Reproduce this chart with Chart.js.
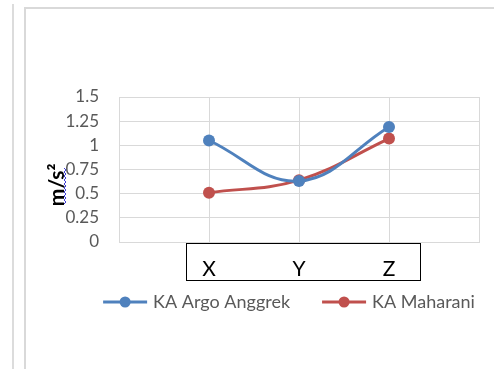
<!DOCTYPE html>
<html>
<head>
<meta charset="utf-8">
<script src="https://cdn.jsdelivr.net/npm/chart.js@4/dist/chart.umd.min.js"></script>
<style>
  html, body { margin: 0; padding: 0; background: #fff; }
  #wrap { position: relative; width: 494px; height: 369px; overflow: hidden; }
  .rule { position: absolute; left: 12px; top: 4px; width: 2px; height: 370px; background: #dcdcdc; }
  .frame { position: absolute; left: 24px; top: 7px; width: 480px; height: 370px;
           border-left: 2px solid #d9d9d9; border-top: 2px solid #d9d9d9; }
  canvas { position: absolute; left: 0; top: 0; }
</style>
</head>
<body>
<div id="wrap">
  <div class="rule"></div>
  <div class="frame"></div>
  <canvas id="c" width="494" height="369"></canvas>
</div>
<script>
// Acceleration per axis for each train
const categories = ['', 'X', 'Y', 'Z', ''];
const argoAnggrek = [null, 1.05, 0.63, 1.19, null];
const maharani = [null, 0.51, 0.64, 1.07, null];
const yTicks = [0, 0.25, 0.5, 0.75, 1, 1.25, 1.5];
const seriesNames = ['KA Argo Anggrek', 'KA Maharani'];
const seriesColors = ['#4F81BD', '#C0504D'];
const yTitle = 'm/s\u00B2';

const FONT = 'Lato, "Open Sans", sans-serif';

// Outlined text box around the axis labels
const labelBox = {
  id: 'labelBox',
  afterDraw(chart) {
    const { ctx, chartArea, scales } = chart;
    const left = Math.round(scales.x.getPixelForValue(1) - 23) + 0.5;
    const right = Math.round(scales.x.getPixelForValue(3) + 31) + 0.5;
    const top = Math.round(chartArea.bottom + 1) + 0.5;
    const bottom = Math.round(chartArea.bottom + 38) + 0.5;
    ctx.save();
    ctx.strokeStyle = '#000';
    ctx.lineWidth = 1;
    ctx.strokeRect(left, top, right - left, bottom - top);
    ctx.restore();
  }
};

// Wavy underline beside the rotated axis title
const titleMark = {
  id: 'titleMark',
  afterDraw(chart) {
    const { ctx } = chart;
    const x = 65, y0 = 168, y1 = 205;
    ctx.save();
    ctx.strokeStyle = '#3b3bd6';
    ctx.lineWidth = 1;
    ctx.beginPath();
    for (let y = y0, i = 0; y <= y1; y += 2, i++) {
      const xx = x + (i % 2 ? 1 : -1);
      if (i === 0) ctx.moveTo(xx, y); else ctx.lineTo(xx, y);
    }
    ctx.stroke();
    ctx.restore();
  }
};

// Legend: line with marker, then series name
const lineLegend = {
  id: 'lineLegend',
  afterDraw(chart) {
    const { ctx, chartArea } = chart;
    const y = chartArea.bottom + 60;
    const lineW = 44, gapText = 6, gapItem = 32;
    ctx.save();
    ctx.font = '18px ' + FONT;
    ctx.textBaseline = 'middle';
    const sets = chart.data.datasets;
    const widths = sets.map(d => lineW + gapText + ctx.measureText(d.label).width);
    const total = widths.reduce((a, b) => a + b, 0) + gapItem * (sets.length - 1);
    let x = (chartArea.left + chartArea.right) / 2 - 10 - total / 2;
    sets.forEach((d, i) => {
      ctx.strokeStyle = d.borderColor;
      ctx.lineWidth = 3;
      ctx.beginPath();
      ctx.moveTo(x, y);
      ctx.lineTo(x + lineW, y);
      ctx.stroke();
      ctx.fillStyle = d.borderColor;
      ctx.beginPath();
      ctx.arc(x + lineW / 2, y, 5.5, 0, Math.PI * 2);
      ctx.fill();
      ctx.fillStyle = '#595959';
      ctx.fillText(d.label, x + lineW + gapText, y);
      x += widths[i] + gapItem;
    });
    ctx.restore();
  }
};

const dataSeries = [argoAnggrek, maharani];

new Chart(document.getElementById('c'), {
  type: 'line',
  data: {
    labels: categories,
    datasets: dataSeries.map((values, i) => ({
      label: seriesNames[i],
      data: values,
      borderColor: seriesColors[i],
      backgroundColor: seriesColors[i],
      pointBackgroundColor: seriesColors[i],
      pointBorderColor: seriesColors[i],
      borderWidth: 3,
      pointRadius: 6,
      pointBorderWidth: 0,
      tension: 0.4,
      spanGaps: true,
      fill: false
    }))
  },
  options: {
    responsive: false,
    animation: false,
    devicePixelRatio: 1,
    layout: { padding: { top: 97, right: 15, bottom: 82, left: 0 } },
    plugins: {
      legend: { display: false },
      tooltip: { enabled: false }
    },
    scales: {
      x: {
        offset: false,
        grid: { color: '#d9d9d9', drawTicks: false, offset: false },
        border: { color: '#d9d9d9' },
        ticks: {
          autoSkip: false,
          maxRotation: 0,
          padding: 15,
          color: '#000',
          font: { family: FONT, size: 21 }
        },
        afterFit(scale) { scale.height = 45; }
      },
      y: {
        min: 0,
        max: 1.5,
        afterBuildTicks(scale) { scale.ticks = yTicks.map(v => ({ value: v })); },
        grid: { color: '#d9d9d9', drawTicks: false },
        border: { color: '#d9d9d9' },
        ticks: {
          autoSkip: false,
          padding: 20,
          color: '#595959',
          font: { family: FONT, size: 17 },
          callback: v => String(v)
        },
        title: {
          display: true,
          text: yTitle + '      ',
          color: '#000',
          padding: { top: 45, bottom: 0 },
          font: { family: FONT, size: 21, weight: 'bold' }
        },
        afterFit(scale) { scale.width = 119; }
      }
    }
  },
  plugins: [labelBox, titleMark, lineLegend]
});
</script>
</body>
</html>
